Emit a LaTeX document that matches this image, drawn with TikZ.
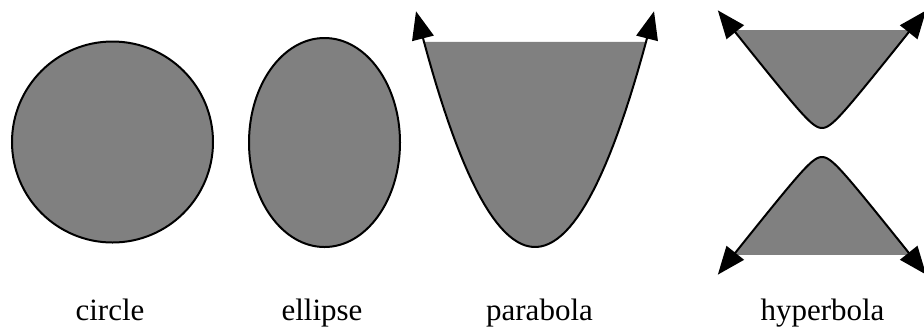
\documentclass[tikz,border=0pt]{standalone}
\usepackage{fontspec}
\setmainfont{Liberation Serif}
\usetikzlibrary{arrows.meta}

\begin{document}
\begin{tikzpicture}[
    x=0.5pt, y=-0.5pt, % one unit per pixel, y pointing down
    >={Triangle[length=14pt, width=11pt]}, % Set default arrow tip style
    conic/.style={line width=1pt, black}, % Style for the curves
    area/.style={fill=gray}, % Style for the shaded regions
    labelstyle/.style={anchor=base, font=\fontsize{15.5}{18}\selectfont} % Style for labels
]
    \useasboundingbox (0,0) rectangle (924,328);

    % Circle
    \draw[conic, area] (112.5,142) circle (100.5);

    % Ellipse
    \draw[conic, area] (324.5,142.5) ellipse [x radius=75.5, y radius=104.5];

    % Parabola: shaded up to the chord, curve runs on to the arrow tips
    \def\k{0.01664}
    \fill[area] plot[domain=-111:111, samples=60, variable=\u] ({535+\u}, {247-\k*\u*\u}) -- cycle;
    \draw[conic, <->] plot[domain=-119:119, samples=60, variable=\u] ({535+\u}, {247-\k*\u*\u});

    % Hyperbola: two branches
    \def\a{14.5}
    \def\b{11.5}
    \foreach \s in {-1, 1} {
        \fill[area] plot[domain=-2.737:2.737, samples=60, variable=\t]
            ({822+\b*sinh(\t)}, {142.5+\s*\a*cosh(\t)}) -- cycle;
        \draw[conic, <->] plot[domain=-2.9:2.9, samples=60, variable=\t]
            ({822+\b*sinh(\t)}, {142.5+\s*\a*cosh(\t)});
    }

    % Labels
    \node[labelstyle] (circlelabel) at (110,320) {circle};
    \node[labelstyle] (ellipselabel) at (322,320) {ellipse};
    \node[labelstyle] (parabolalabel) at (539.5,320) {parabola};
    \node[labelstyle] (hyperbolalabel) at (822.5,320) {hyperbola};

\end{tikzpicture}
\end{document}
